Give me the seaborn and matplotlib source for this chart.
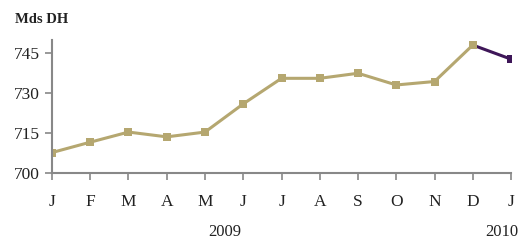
import pandas as pd
import numpy as np
import matplotlib.pyplot as plt
import seaborn as sns

# valeurs (Mds DH)
mois = ['J', 'F', 'M', 'A', 'M', 'J', 'J', 'A', 'S', 'O', 'N', 'D', 'J']
valeurs_2009 = [707.7, 711.6, 715.4, 713.6, 715.4, 726.0, 735.6, 735.6, 737.5, 733.1, 734.4, 748.1]
valeur_2010 = 742.8

df_2009 = pd.DataFrame({'pos': range(12), 'val': valeurs_2009})
df_2010 = pd.DataFrame({'pos': [11, 12], 'val': [valeurs_2009[-1], valeur_2010]})

sns.set_style('ticks')
plt.rcParams['font.family'] = ['Liberation Serif', 'DejaVu Serif']

fig = plt.figure(figsize=(5.22, 2.41), dpi=100)
ax = fig.add_axes([0.0996, 0.282, 0.8794, 0.552])

tan = '#B5A770'
violet = '#3E1658'

sns.lineplot(data=df_2010, x='pos', y='val', ax=ax, color=violet, lw=2.2,
             marker='s', markersize=5.5, markeredgewidth=0)
sns.lineplot(data=df_2009, x='pos', y='val', ax=ax, color=tan, lw=2.2,
             marker='s', markersize=5.5, markeredgewidth=0)

ax.set_xlim(0, 12)
ax.set_ylim(700, 750)
ax.set_yticks([700, 715, 730, 745])
ax.set_xticks(range(13))
ax.set_xticklabels(mois)
ax.set_xlabel('')
ax.set_ylabel('')
ax.tick_params(axis='x', length=5, width=1.2, color='#888888', pad=10, labelsize=12.5, labelcolor='#222222')
ax.tick_params(axis='y', length=5, width=1.2, color='#888888', pad=4, labelsize=12.5, labelcolor='#222222')
for s in ['top', 'right']:
    ax.spines[s].set_visible(False)
for s in ['left', 'bottom']:
    ax.spines[s].set_color('#888888')
    ax.spines[s].set_linewidth(1.5)

fig.text(0.029, 0.905, 'Mds DH', fontsize=10.5, fontweight='bold', color='#222222')
fig.text(0.431, 0.004, '2009', fontsize=12, ha='center', va='bottom', color='#222222')
fig.text(0.993, 0.004, '2010', fontsize=12, ha='right', va='bottom', color='#222222')

plt.savefig('out.png', dpi=100)
